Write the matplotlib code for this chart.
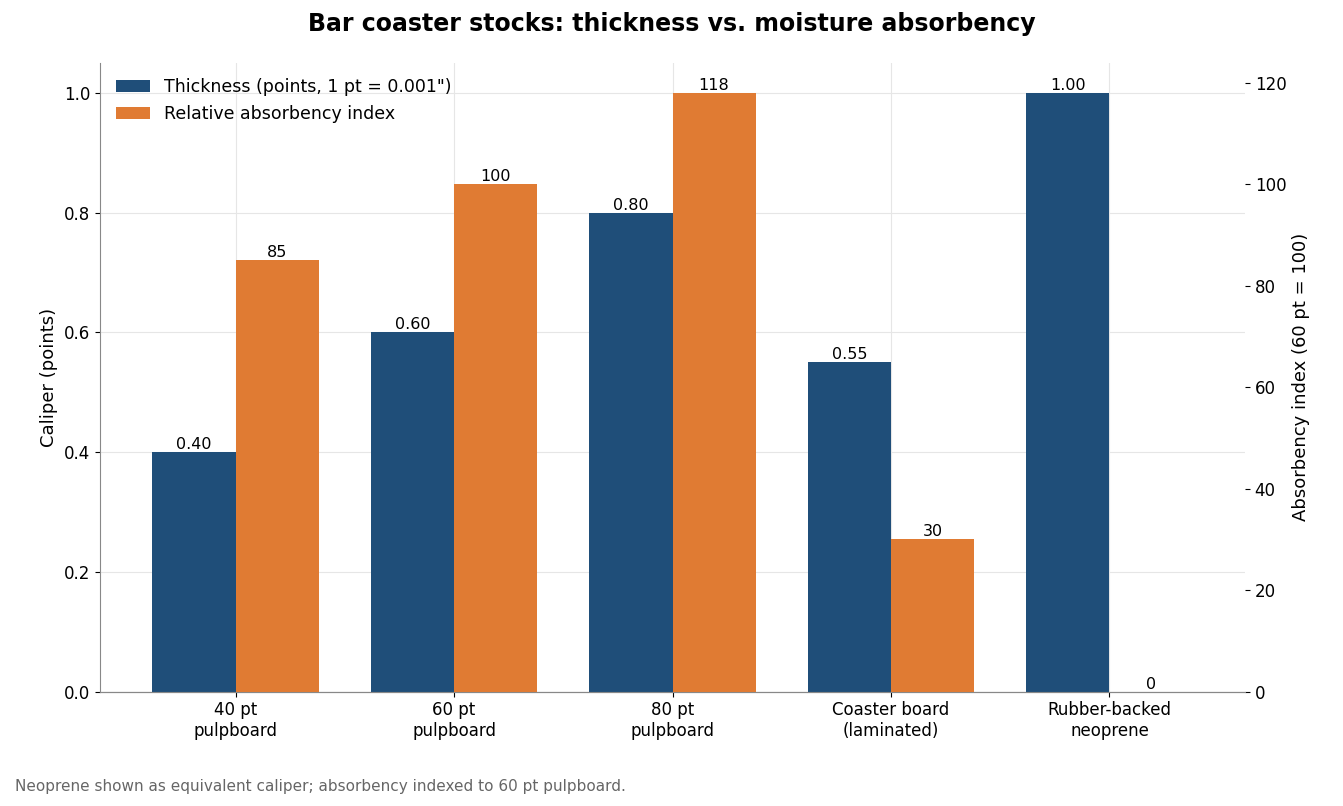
import numpy as np
import matplotlib.pyplot as plt

categories = ['40 pt\npulpboard', '60 pt\npulpboard', '80 pt\npulpboard',
              'Coaster board\n(laminated)', 'Rubber-backed\nneoprene']
thickness = [0.40, 0.60, 0.80, 0.55, 1.00]
absorbency = [85, 100, 118, 30, 0]

x = np.arange(len(categories))
width = 0.38

fig, ax = plt.subplots(figsize=(13.43, 8.06), dpi=100)
fig.subplots_adjust(left=0.0745, right=0.927, top=0.922, bottom=0.142)
ax2 = ax.twinx()

b1 = ax.bar(x - width / 2, thickness, width, color='#1f4e79',
            label='Thickness (points, 1 pt = 0.001")', zorder=3)
b2 = ax2.bar(x + width / 2, absorbency, width, color='#e07b33',
             label='Relative absorbency index', zorder=3)

ax.set_ylim(0, 1.05)
ax2.set_ylim(0, 1.05 * 118)
ax.set_xlim(-0.62, 4.62)
ax.set_xticks(x)
ax.set_xticklabels(categories, fontsize=12)
ax.tick_params(axis='y', labelsize=12)
ax2.tick_params(axis='y', labelsize=12)
ax.set_ylabel('Caliper (points)', fontsize=13)
ax2.set_ylabel('Absorbency index (60 pt = 100)', fontsize=13)

ax.grid(True, color='#e6e6e6', zorder=0)
ax.set_axisbelow(True)
for a in (ax, ax2):
    a.spines['top'].set_visible(False)
    a.spines['right'].set_visible(False)
    a.spines['left'].set_color('#888888')
    a.spines['bottom'].set_color('#888888')
ax2.spines['left'].set_visible(False)

for r, v in zip(b1, thickness):
    ax.text(r.get_x() + r.get_width() / 2, v, '%.2f' % v, ha='center', va='bottom', fontsize=11.5)
for r, v in zip(b2, absorbency):
    ax2.text(r.get_x() + r.get_width() / 2, v, '%d' % v, ha='center', va='bottom', fontsize=11.5)

h1, l1 = ax.get_legend_handles_labels()
h2, l2 = ax2.get_legend_handles_labels()
ax.legend(h1 + h2, l1 + l2, loc='upper left', frameon=False, fontsize=12.5)

fig.suptitle('Bar coaster stocks: thickness vs. moisture absorbency',
             fontsize=17, fontweight='bold', y=0.985)
fig.text(0.011, 0.018, 'Neoprene shown as equivalent caliper; absorbency indexed to 60 pt pulpboard.',
         fontsize=11, color='#666666')

fig.savefig('out.png')
